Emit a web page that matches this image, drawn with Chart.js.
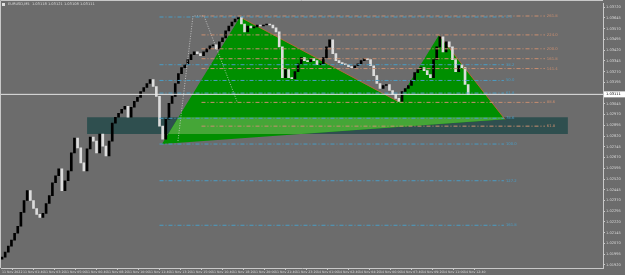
<!DOCTYPE html>
<html>
<head>
<meta charset="utf-8">
<script src="https://cdn.jsdelivr.net/npm/chart.js@4.4.0/dist/chart.umd.min.js"></script>
<style>
html, body { margin: 0; padding: 0; background: #6c6c6c; }
canvas { display: block; }
</style>
</head>
<body>
<canvas id="mtChart" width="625" height="275"></canvas>
<script>
// chart header
var symbolTitle = 'EURUSD,M5  1.03118 1.03121 1.03108 1.03111';

// price data, one close per 15 minutes (3 bars of M5), bar index on x
var barStep = 3;
var firstOpen = 1.01960;
var closes = [
  1.01975,1.02010,1.02051,1.02093,1.02141,1.02190,1.02287,1.02370,1.02439,1.02370,
  1.02314,1.02273,1.02252,1.02280,1.02349,1.02404,1.02494,1.02543,1.02591,1.02439,
  1.02508,1.02577,1.02702,1.02806,1.02737,1.02633,1.02577,1.02730,1.02813,1.02785,
  1.02702,1.02834,1.02750,1.02681,1.02785,1.02910,1.02951,1.02979,1.03007,1.03027,
  1.02951,1.03021,1.03062,1.03090,1.03131,1.03159,1.03187,1.03214,1.03166,1.03097,
  1.02889,1.02799,1.02937,1.03048,1.03097,1.03187,1.03256,1.03298,1.03318,1.03353,
  1.03388,1.03408,1.03395,1.03381,1.03408,1.03429,1.03450,1.03457,1.03429,1.03478,
  1.03505,1.03554,1.03588,1.03616,1.03637,1.03651,1.03602,1.03547,1.03588,1.03575,
  1.03581,1.03595,1.03588,1.03595,1.03602,1.03595,1.03575,1.03547,1.03443,1.03228,
  1.03284,1.03228,1.03221,1.03270,1.03325,1.03367,1.03346,1.03339,1.03360,1.03346,
  1.03318,1.03325,1.03367,1.03443,1.03491,1.03395,1.03346,1.03332,1.03325,1.03318,
  1.03304,1.03298,1.03311,1.03325,1.03346,1.03360,1.03353,1.03311,1.03242,1.03187,
  1.03152,1.03173,1.03180,1.03138,1.03111,1.03083,1.03062,1.03131,1.03152,1.03173,
  1.03208,1.03263,1.03284,1.03298,1.03277,1.03249,1.03228,1.03353,1.03443,1.03512,
  1.03408,1.03478,1.03443,1.03353,1.03270,1.03318,1.03298,1.03180,1.03111
];
var lastPrice = closes[closes.length - 1];

// axis labels
var xTickStep = 20;
var xTickLabels = [
  '11 Nov 2022', '11 Nov 01:40', '11 Nov 03:20', '11 Nov 05:00', '11 Nov 06:40',
  '11 Nov 08:20', '11 Nov 10:00', '11 Nov 11:40', '11 Nov 13:20', '11 Nov 15:00',
  '11 Nov 16:40', '11 Nov 18:20', '11 Nov 20:00', '11 Nov 21:40', '11 Nov 23:20',
  '14 Nov 01:00', '14 Nov 02:40', '14 Nov 04:20', '14 Nov 06:00', '14 Nov 07:40',
  '14 Nov 09:20', '14 Nov 11:00', '14 Nov 12:40'
];
var yTickLabels = [
  '1.03720','1.03645','1.03570','1.03495','1.03420','1.03345','1.03270','1.03195',
  '1.03120','1.03045','1.02970','1.02895','1.02820','1.02745','1.02670','1.02595',
  '1.02520','1.02445','1.02370','1.02295','1.02220','1.02145','1.02070','1.01995','1.01920'
];
var xMin = -0.95, xMax = 572.4;
var yMin = 1.018987, yMax = 1.037477;

// harmonic pattern X A B C D
var patternIdx = [152.4, 226.7, 377.1, 416.2, 479];
var patternPrice = [1.02764, 1.03651, 1.03062, 1.03526, 1.02937];

// zone rectangle
var boxStart = 81, boxEnd = 539;
var boxHigh = 1.02951, boxLow = 1.02834;

// zigzag helper line
var zigIdx = [167.6, 181.9, 192.4, 223.8];
var zigPrice = [1.02785, 1.03658, 1.03658, 1.03062];

// fibo levels
var cyanStart = 150, cyanEnd = 478;
var cyanLevels = [1.03651, 1.03318, 1.03208, 1.03120, 1.02944, 1.02764, 1.02508, 1.02197];
var cyanNames = ['0.0', '38.2', '50.0', '61.8', '78.6', '100.0', '127.2', '161.8'];
var salmonStart = 190, salmonEnd = 517;
var salmonLevels = [1.03658, 1.03526, 1.03429, 1.03360, 1.03291, 1.03055, 1.02889];
var salmonNames = ['261.8', '224.0', '200.0', '161.8', '141.4', '88.6', '61.8'];

var cyanColor = '#4a9cc4';
var salmonColor = '#c98e70';
var axisColor = '#c8c8c8';
var textColor = '#d8d8d8';

function pts(xs, ys) {
  return xs.map(function(x, i) { return {x: x, y: ys[i]}; });
}

var candleData = closes.map(function(c, k) {
  var o = k === 0 ? firstOpen : closes[k - 1];
  return {x: k * barStep, y: [o, c]};
});

var datasets = [];

// top: current price line
datasets.push({
  type: 'line', data: [{x: xMin, y: lastPrice}, {x: xMax, y: lastPrice}],
  borderColor: '#e6e6e6', borderWidth: 1, pointRadius: 0, fill: false
});

cyanLevels.forEach(function(v, i) {
  datasets.push({
    type: 'line', data: [{x: cyanStart, y: v}, {x: cyanEnd, y: v}],
    borderColor: cyanColor, borderWidth: 1, borderDash: [4, 2, 1, 2], pointRadius: 0, fill: false,
    fiboLabel: cyanNames[i], fiboColor: cyanColor
  });
});
salmonLevels.forEach(function(v, i) {
  datasets.push({
    type: 'line', data: [{x: salmonStart, y: v}, {x: salmonEnd, y: v}],
    borderColor: salmonColor, borderWidth: 1, borderDash: [4, 2, 1, 2], pointRadius: 0, fill: false,
    fiboLabel: salmonNames[i], fiboColor: salmonColor
  });
});

datasets.push({
  type: 'line', data: pts(zigIdx, zigPrice),
  borderColor: '#d4d4d4', borderWidth: 0.8, borderDash: [1, 1.5], pointRadius: 0, fill: false
});

// candles
datasets.push({
  type: 'bar', data: candleData, barThickness: 2, minBarLength: 1, borderWidth: 0,
  backgroundColor: function(ctx) {
    var r = ctx.raw;
    if (!r) return '#000';
    return r.y[1] >= r.y[0] ? '#000000' : '#dcdcdc';
  }
});

// pattern edges
datasets.push({
  type: 'line', data: pts(patternIdx.slice(1, 3), patternPrice.slice(1, 3)),
  borderColor: 'rgba(190,100,60,0.9)', borderWidth: 1, pointRadius: 0, fill: false
});
datasets.push({
  type: 'line', data: pts(patternIdx.slice(3, 5), patternPrice.slice(3, 5)),
  borderColor: 'rgba(190,100,60,0.9)', borderWidth: 1, pointRadius: 0, fill: false
});

// light green: the pattern where it covers the zone (clipped in plugin)
var lightIdx = datasets.length;
datasets.push({
  type: 'line', data: pts(patternIdx, patternPrice),
  borderWidth: 0, pointRadius: 0, backgroundColor: '#45a637', fill: '+2'
});
// pattern fill
var greenIdx = datasets.length;
datasets.push({
  type: 'line', data: pts(patternIdx, patternPrice),
  borderWidth: 0, pointRadius: 0, backgroundColor: '#008f00', fill: '+1'
});
datasets.push({
  type: 'line', data: pts([patternIdx[0], patternIdx[4]], [patternPrice[0], patternPrice[4]]),
  borderWidth: 0, pointRadius: 0, fill: false
});
// zone
datasets.push({
  type: 'line', data: [{x: boxStart, y: boxHigh}, {x: boxEnd, y: boxHigh}],
  borderWidth: 0, pointRadius: 0, backgroundColor: '#2f4f4f', fill: {value: boxLow}
});

var mtPlugin = {
  id: 'mtPlugin',
  beforeDraw: function(chart) {
    var ctx = chart.ctx;
    ctx.save();
    ctx.fillStyle = '#6c6c6c';
    ctx.fillRect(0, 0, chart.width, chart.height);
    ctx.restore();
  },
  afterDatasetDraw: function(chart, args) {
    var ctx = chart.ctx;
    if (args.index === greenIdx) {
      var xs = chart.scales.x, ys = chart.scales.y;
      var l = xs.getPixelForValue(boxStart), r = xs.getPixelForValue(boxEnd);
      var t = ys.getPixelForValue(boxHigh), b = ys.getPixelForValue(boxLow);
      ctx.save();
      ctx.beginPath();
      ctx.rect(l, t, r - l, b - t);
      ctx.clip();
    } else if (args.index === lightIdx) {
      ctx.restore();
    }
  },
  afterDraw: function(chart) {
    var ctx = chart.ctx;
    var area = chart.chartArea;
    ctx.save();
    // frame
    ctx.strokeStyle = axisColor;
    ctx.lineWidth = 1;
    ctx.beginPath();
    ctx.moveTo(0.5, area.bottom);
    ctx.lineTo(0.5, 0.5);
    ctx.lineTo(area.right, 0.5);
    ctx.stroke();

    // fibo labels
    ctx.font = '3.8px "DejaVu Sans"';
    ctx.textBaseline = 'middle';
    ctx.textAlign = 'left';
    chart.data.datasets.forEach(function(ds, i) {
      if (!ds.fiboLabel) return;
      var meta = chart.getDatasetMeta(i);
      var p = meta.data[meta.data.length - 1];
      ctx.fillStyle = ds.fiboColor;
      ctx.fillText(ds.fiboLabel, p.x + 2, p.y);
    });

    // title
    ctx.fillStyle = '#e0e0e0';
    ctx.fillRect(2, 3, 3, 3);
    ctx.fillStyle = textColor;
    ctx.font = '3.6px "DejaVu Sans"';
    ctx.fillText(symbolTitle, 8, 4.5);

    // current price box
    var py = chart.scales.y.getPixelForValue(lastPrice);
    ctx.fillStyle = '#ffffff';
    ctx.fillRect(area.right + 1, py - 3, 21, 6);
    ctx.fillStyle = '#000000';
    ctx.font = '3.6px "DejaVu Sans"';
    ctx.fillText(lastPrice.toFixed(5), area.right + 3, py);
    ctx.restore();
  }
};

var chart = new Chart(document.getElementById('mtChart').getContext('2d'), {
  type: 'bar',
  data: {datasets: datasets},
  options: {
    responsive: false,
    animation: false,
    devicePixelRatio: 1,
    layout: {padding: {left: 1, top: 1, right: 0, bottom: 0}},
    plugins: {legend: {display: false}, tooltip: {enabled: false}},
    elements: {line: {tension: 0}},
    scales: {
      x: {
        type: 'linear', min: xMin, max: xMax, offset: false,
        afterBuildTicks: function(s) {
          s.ticks = xTickLabels.map(function(l, i) { return {value: i * xTickStep}; });
        },
        ticks: {
          autoSkip: false, maxRotation: 0, minRotation: 0, align: 'start', padding: 0,
          color: textColor, font: {size: 3.2, family: 'DejaVu Sans'},
          callback: function(v, i) { return xTickLabels[i]; }
        },
        grid: {drawOnChartArea: false, drawTicks: true, tickLength: 2, color: axisColor},
        border: {display: true, color: axisColor},
        afterFit: function(s) { s.height = 7; }
      },
      y: {
        position: 'right', min: yMin, max: yMax,
        afterBuildTicks: function(s) {
          s.ticks = yTickLabels.map(function(t) { return {value: parseFloat(t)}; });
        },
        ticks: {
          padding: 1, color: textColor, font: {size: 3.6, family: 'DejaVu Sans'},
          callback: function(v, i) {
            return Math.abs(v - lastPrice) < 0.0003 ? '' : yTickLabels[i];
          }
        },
        grid: {drawOnChartArea: false, drawTicks: true, tickLength: 2, color: axisColor},
        border: {display: true, color: axisColor},
        afterFit: function(s) { s.width = 22; }
      }
    }
  },
  plugins: [mtPlugin]
});
</script>
</body>
</html>
